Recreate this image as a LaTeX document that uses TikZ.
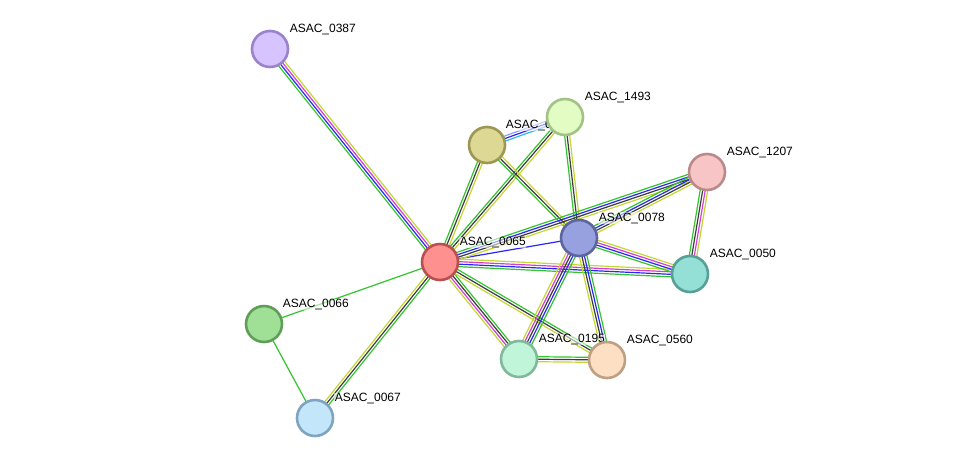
\documentclass[tikz,border=0pt]{standalone}
\usepackage{fontspec}
\setmainfont{Liberation Sans}
\usetikzlibrary{calc}
\pgfdeclarelayer{edgelayer}
\pgfdeclarelayer{labellayer}
\pgfsetlayers{edgelayer,labellayer,main}
\definecolor{sg}{RGB}{50,196,44}
\definecolor{sb}{RGB}{40,40,240}
\definecolor{sk}{RGB}{60,60,60}
\definecolor{sm}{RGB}{214,60,214}
\definecolor{sy}{RGB}{196,214,50}
\definecolor{sc}{RGB}{48,184,224}
\definecolor{sl}{RGB}{150,150,255}
\newcommand\sedge[3]{%
  \gdef\ncount{0}%
  \foreach \cc in {#3}{\xdef\ncount{\the\numexpr\ncount+1\relax}}%
  \foreach \cc [count=\ii] in {#3}{%
    \pgfmathsetmacro\off{(\ii-(\ncount+1)/2)*2.5}%
    \draw[strline,\cc] ($(#1.center)!\off pt!90:(#2.center)$) -- ($(#2.center)!\off pt!-90:(#1.center)$);
  }}
\tikzset{
  strline/.style={line width=1.2pt},
  prot/.style={circle, line width=2.6pt, minimum size=36pt, inner sep=0pt},
  plabel/.style={anchor=base west, font=\fontsize{12}{14}\selectfont, inner sep=0.6pt, fill=white, fill opacity=0.55, text opacity=1}
}
\begin{document}
\begin{tikzpicture}[x=1pt,y=-1pt]
\useasboundingbox (0,0) rectangle (976,464);
% nodes
\node[prot, fill={rgb,255:red,213;green,196;blue,255}, draw={rgb,255:red,154;green,130;blue,204}] (a) at (270,49) {};
\node[prot, fill={rgb,255:red,255;green,144;blue,144}, draw={rgb,255:red,184;green,80;blue,80}] (b) at (440,262) {};
\node[prot, fill={rgb,255:red,160;green,224;blue,150}, draw={rgb,255:red,94;green,158;blue,86}] (c) at (264,324) {};
\node[prot, fill={rgb,255:red,195;green,230;blue,250}, draw={rgb,255:red,127;green,164;blue,191}] (d) at (315,418) {};
\node[prot, fill={rgb,255:red,221;green,216;blue,148}, draw={rgb,255:red,156;green,152;blue,84}] (e) at (487,145) {};
\node[prot, fill={rgb,255:red,226;green,252;blue,196}, draw={rgb,255:red,163;green,195;blue,134}] (f) at (565,117) {};
\node[prot, fill={rgb,255:red,247;green,197;blue,197}, draw={rgb,255:red,186;green,138;blue,138}] (g) at (707,172) {};
\node[prot, fill={rgb,255:red,152;green,161;blue,223}, draw={rgb,255:red,92;green,101;blue,159}] (h) at (579,238) {};
\node[prot, fill={rgb,255:red,149;green,224;blue,214}, draw={rgb,255:red,88;green,160;blue,150}] (i) at (690,274) {};
\node[prot, fill={rgb,255:red,192;green,245;blue,218}, draw={rgb,255:red,128;green,186;blue,154}] (j) at (519,359) {};
\node[prot, fill={rgb,255:red,253;green,223;blue,196}, draw={rgb,255:red,190;green,159;blue,132}] (k) at (607,360) {};
% labels
\begin{pgfonlayer}{labellayer}
\node[plabel] (la) at ($(a.center)+(19,-16.5)$) {ASAC\_0387};
\node[plabel] (lb) at ($(b.center)+(19,-16.5)$) {ASAC\_0065};
\node[plabel] (lc) at ($(c.center)+(18,-16.5)$) {ASAC\_0066};
\node[plabel] (ld) at ($(d.center)+(19,-16.5)$) {ASAC\_0067};
\node[plabel] (le) at ($(e.center)+(18,-16.5)$) {ASAC\_0077};
\node[plabel] (lf) at ($(f.center)+(19,-16.5)$) {ASAC\_1493};
\node[plabel] (lg) at ($(g.center)+(19,-16.5)$) {ASAC\_1207};
\node[plabel] (lh) at ($(h.center)+(19,-17)$) {ASAC\_0078};
\node[plabel] (li) at ($(i.center)+(19,-17)$) {ASAC\_0050};
\node[plabel] (lj) at ($(j.center)+(19,-16.5)$) {ASAC\_0195};
\node[plabel] (lk) at ($(k.center)+(19,-16.5)$) {ASAC\_0560};
\end{pgfonlayer}
% edges
\begin{pgfonlayer}{edgelayer}
\sedge{a}{b}{sg,sb,sm,sy}
\sedge{b}{c}{sg}
\sedge{c}{d}{sg}
\sedge{b}{d}{sy,sk,sg}
\sedge{b}{e}{sy,sk,sg}
\sedge{b}{f}{sy,sk,sg}
\sedge{e}{f}{sc,sb,sl}
\sedge{e}{h}{sg,sk,sy}
\sedge{f}{h}{sg,sk,sy}
\sedge{b}{h}{sb}
\sedge{b}{g}{sy,sk,sb,sg}
\sedge{h}{g}{sy,sk,sb,sg}
\sedge{b}{i}{sg,sb,sm,sy}
\sedge{h}{i}{sg,sb,sm,sy}
\sedge{g}{i}{sg,sk,sm,sy}
\sedge{b}{j}{sy,sm,sk,sg}
\sedge{b}{k}{sy,sk,sg}
\sedge{h}{j}{sy,sm,sk,sb,sg}
\sedge{h}{k}{sy,sk,sb,sg}
\sedge{j}{k}{sy,sk,sg}
\end{pgfonlayer}
\end{tikzpicture}
\end{document}
